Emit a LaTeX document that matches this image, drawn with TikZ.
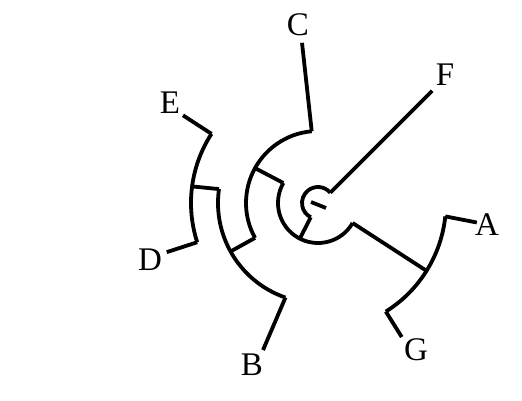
\documentclass[tikz,border=0pt]{standalone}
\usepackage{fontspec}
\setmainfont{Liberation Serif}
\usepackage{tikz}
\tikzset{
    branch/.style={line width=3.8pt},
    taxon/.style={font=\fontsize{33}{36}\selectfont, inner sep=0pt}
}
\begin{document}
\begin{tikzpicture}[x=1pt,y=1pt]
    \useasboundingbox (0,0) rectangle (522,400);
    \coordinate (O) at (318,197);

    \begin{scope}[shift={(O)}, branch]
    % inner nodes on their arcs
    \coordinate (rootF) at (40:16);
    \coordinate (rootM) at (243:16);
    \coordinate (midin) at (243:40);
    \coordinate (midAG) at (-30:40);
    \coordinate (midC) at (150:40);
    \coordinate (ag) at (-32:128);
    \coordinate (cin) at (151:72);
    \coordinate (cB) at (209:72);
    \coordinate (bin) at (209:100);
    \coordinate (bDE) at (172:100);
    \coordinate (de) at (172.5:127);
    % ends of the arcs
    \coordinate (agA) at (-6:128);
    \coordinate (agG) at (-58:128);
    \coordinate (cC) at (95:72);
    \coordinate (bB) at (251:100);
    \coordinate (deE) at (147:127);
    \coordinate (deD) at (198:127);
    % leaves
    \coordinate (tF) at (44.5:160);
    \coordinate (tA) at (-7:160);
    \coordinate (tG) at (-58:158);
    \coordinate (tC) at (95.7:161);
    \coordinate (tB) at (249.5:157);
    \coordinate (tE) at (147:161);
    \coordinate (tD) at (198:159);

    \draw (rootF) arc[start angle=40, end angle=243, radius=16];
    \draw (-7,1) -- (8,-5);
    \draw (rootF) -- (tF);
    \draw (rootM) -- (midin);

    \draw (midC) arc[start angle=150, end angle=330, radius=40];
    \draw (midAG) -- (ag);
    \draw (midC) -- (cin);

    \draw (agG) arc[start angle=-58, end angle=-6, radius=128];
    \draw (agA) -- (tA);
    \draw (agG) -- (tG);

    \draw (cC) arc[start angle=95, end angle=209, radius=72];
    \draw (cC) -- (tC);
    \draw (cB) -- (bin);

    \draw (bDE) arc[start angle=172, end angle=251, radius=100];
    \draw (bB) -- (tB);
    \draw (bDE) -- (de);

    \draw (deE) arc[start angle=147, end angle=198, radius=127];
    \draw (deE) -- (tE);
    \draw (deD) -- (tD);
    \end{scope}

    % taxa
    \node[taxon] (labC) at (298,375) {C};
    \node[taxon] (labF) at (445,325) {F};
    \node[taxon] (labE) at (170,297) {E};
    \node[taxon] (labD) at (150,140) {D};
    \node[taxon] (labB) at (252,35) {B};
    \node[taxon] (labA) at (487,175) {A};
    \node[taxon] (labG) at (416,50) {G};
\end{tikzpicture}
\end{document}
